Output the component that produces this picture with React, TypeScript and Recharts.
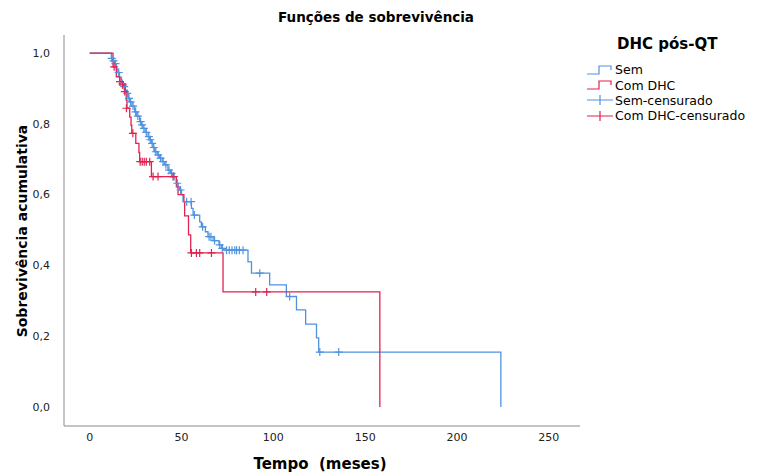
import React from 'react';
import { ComposedChart, Line, Scatter, XAxis, YAxis } from 'recharts';

// Kaplan-Meier step data: time (months) and cumulative survival after each event
const semTimes = [0, 11.8, 12.5, 13.6, 14.5, 15.3, 16.2, 17.3, 18.4, 19.2, 20.0, 21.0, 21.8, 23.0, 24.5, 25.6, 27.2, 28.1, 29.0, 30.2, 31.8, 32.6, 33.6, 34.5, 35.4, 36.8, 38.1, 39.5, 40.8, 42.6, 44.0, 45.4, 47.2, 48.2, 49.0, 50.0, 50.8, 55.4, 56.3, 59.9, 60.8, 63.0, 64.4, 67.2, 70.4, 71.7, 73.0, 86.2, 88.1, 98.0, 107.1, 112.6, 117.6, 123.5, 124.7, 223.9];
const semSurv = [1.0, 0.985, 0.978, 0.97, 0.955, 0.945, 0.932, 0.914, 0.905, 0.895, 0.886, 0.872, 0.862, 0.85, 0.834, 0.822, 0.806, 0.797, 0.787, 0.776, 0.764, 0.755, 0.745, 0.733, 0.721, 0.712, 0.703, 0.693, 0.684, 0.669, 0.66, 0.651, 0.632, 0.622, 0.613, 0.6, 0.58, 0.561, 0.542, 0.523, 0.509, 0.495, 0.481, 0.47, 0.458, 0.448, 0.443, 0.41, 0.378, 0.345, 0.312, 0.274, 0.234, 0.195, 0.155, 0];

const comTimes = [0, 12.7, 14.5, 16.3, 18.1, 19.3, 19.9, 20.3, 21.8, 22.5, 22.9, 25.1, 26.8, 27.2, 33.6, 47.2, 48.1, 51.3, 51.7, 53.8, 55.0, 72.6, 158.0];
const comSurv = [1.0, 0.961, 0.933, 0.919, 0.91, 0.891, 0.867, 0.844, 0.819, 0.796, 0.773, 0.745, 0.719, 0.693, 0.651, 0.622, 0.6, 0.58, 0.54, 0.486, 0.435, 0.325, 0];

// Censored observations
const semCensTimes = [12.0, 13.0, 14.0, 15.8, 17.8, 18.8, 20.5, 21.4, 22.3, 23.6, 25.0, 26.2, 27.7, 28.5, 29.5, 30.8, 32.2, 33.0, 34.0, 34.9, 36.0, 37.3, 38.6, 40.0, 41.5, 43.2, 44.5, 46.0, 47.7, 49.5, 52.8, 55.2, 57.0, 61.5, 65.0, 66.0, 68.0, 70.8, 72.2, 74.5, 76.0, 77.5, 79.0, 80.0, 81.5, 83.5, 92.6, 108.9, 125.3, 135.6];
const semCensSurv = [0.985, 0.978, 0.97, 0.945, 0.914, 0.905, 0.886, 0.872, 0.862, 0.85, 0.834, 0.822, 0.806, 0.797, 0.787, 0.776, 0.764, 0.755, 0.745, 0.733, 0.721, 0.712, 0.703, 0.693, 0.684, 0.669, 0.66, 0.651, 0.632, 0.613, 0.58, 0.58, 0.542, 0.509, 0.481, 0.481, 0.47, 0.458, 0.448, 0.443, 0.443, 0.443, 0.443, 0.443, 0.443, 0.443, 0.378, 0.312, 0.155, 0.155];

const comCensTimes = [13.3, 16.5, 18.0, 19.1, 20.0, 23.5, 27.5, 28.6, 29.7, 30.8, 32.7, 34.5, 37.2, 45.4, 55.4, 58.1, 59.9, 66.3, 90.4, 96.4];
const comCensSurv = [0.961, 0.919, 0.91, 0.891, 0.844, 0.773, 0.693, 0.693, 0.693, 0.693, 0.693, 0.651, 0.651, 0.651, 0.435, 0.435, 0.435, 0.435, 0.325, 0.325];

const xTicks = [0, 50, 100, 150, 200, 250];
const yTicks = [0, 0.2, 0.4, 0.6, 0.8, 1.0];

const legendTitle = 'DHC pós-QT';
const legendLabels = ['Sem', 'Com DHC', 'Sem-censurado', 'Com DHC-censurado'];

const BLUE = '#4f93e0';
const RED = '#e0234f';
const FONT = '"DejaVu Sans", Verdana, sans-serif';

const toRows = (ts: number[], ss: number[]) => ts.map((t, i) => ({ t, s: ss[i] }));
const semData = toRows(semTimes, semSurv);
const comData = toRows(comTimes, comSurv);
const semCens = toRows(semCensTimes, semCensSurv);
const comCens = toRows(comCensTimes, comCensSurv);

const makeCross = (color: string) => (props: any) => {
  const { cx, cy } = props;
  if (cx == null || cy == null) return <g />;
  return (
    <path d={`M${cx - 4},${cy}H${cx + 4}M${cx},${cy - 4}V${cy + 4}`} stroke={color} strokeWidth={1.2} fill="none" />
  );
};

const StepIcon = ({ color }: { color: string }) => (
  <svg width={26} height={12} style={{ display: 'block' }}>
    <path d="M0,10H12V2H24V6" stroke={color} strokeWidth={1.2} fill="none" />
  </svg>
);
const CrossIcon = ({ color }: { color: string }) => (
  <svg width={26} height={12} style={{ display: 'block' }}>
    <path d="M0,6H26M13,1V11" stroke={color} strokeWidth={1.2} fill="none" />
  </svg>
);

const LegendBox = () => {
  const icons = [
    <StepIcon color={BLUE} />,
    <StepIcon color={RED} />,
    <CrossIcon color={BLUE} />,
    <CrossIcon color={RED} />,
  ];
  return (
    <div style={{ position: 'absolute', left: 587, top: 31, width: 175, fontFamily: FONT, color: '#000' }}>
      <div style={{ fontWeight: 'bold', fontSize: 15, paddingLeft: 30, height: 26, lineHeight: '26px' }}>{legendTitle}</div>
      <div style={{ height: 5 }} />
      {legendLabels.map((l, i) => (
        <div key={l} style={{ display: 'flex', alignItems: 'center', height: 15.4, fontSize: 12.5 }}>
          {icons[i]}
          <span style={{ marginLeft: 2 }}>{l}</span>
        </div>
      ))}
    </div>
  );
};

const fmt = (v: number) => v.toFixed(1).replace('.', ',');

export default function App() {
  return (
    <div style={{ position: 'absolute', left: 0, top: 0, width: 762, height: 475, background: '#fff' }}>
      <ComposedChart width={762} height={475} margin={{ top: 35, right: 182, bottom: 0, left: 0 }}>
        <XAxis
          type="number"
          dataKey="t"
          domain={[-14, 267]}
          ticks={xTicks}
          allowDataOverflow
          tickLine={false}
          axisLine={{ stroke: '#8a8a8a' }}
          tick={{ fill: '#222', fontSize: 11, fontFamily: FONT }}
          tickSize={6}
          tickMargin={1}
          height={49}
        />
        <YAxis
          type="number"
          dataKey="s"
          domain={[-0.054, 1.051]}
          ticks={yTicks}
          allowDataOverflow
          tickFormatter={fmt}
          tickLine={false}
          axisLine={{ stroke: '#8a8a8a' }}
          tick={{ fill: '#222', fontSize: 11, fontFamily: FONT }}
          tickSize={6}
          tickMargin={8}
          width={64}
        />
        <Line data={semData} dataKey="s" type="stepAfter" stroke={BLUE} strokeWidth={1.3} dot={false} isAnimationActive={false} />
        <Line data={comData} dataKey="s" type="stepAfter" stroke={RED} strokeWidth={1.3} dot={false} isAnimationActive={false} />
        <Scatter data={semCens} dataKey="s" shape={makeCross(BLUE)} isAnimationActive={false} />
        <Scatter data={comCens} dataKey="s" shape={makeCross(RED)} isAnimationActive={false} />
      </ComposedChart>
      <LegendBox />
      <div style={{ position: 'absolute', left: 0, top: 9, width: 752, textAlign: 'center', fontFamily: FONT, fontWeight: 'bold', fontSize: 13.5 }}>
        Funções de sobrevivência
      </div>
      <div style={{ position: 'absolute', left: 220, top: 455, width: 200, textAlign: 'center', fontFamily: FONT, fontWeight: 'bold', fontSize: 15, whiteSpace: 'pre' }}>
        {'Tempo  (meses)'}
      </div>
      <div style={{ position: 'absolute', left: 22, top: 231, width: 0, height: 0 }}>
        <div style={{ position: 'absolute', left: -150, top: -10, width: 300, height: 20, lineHeight: '20px', textAlign: 'center', transform: 'rotate(-90deg)', fontFamily: FONT, fontWeight: 'bold', fontSize: 14, whiteSpace: 'nowrap' }}>
          Sobrevivência acumulativa
        </div>
      </div>
    </div>
  );
}
